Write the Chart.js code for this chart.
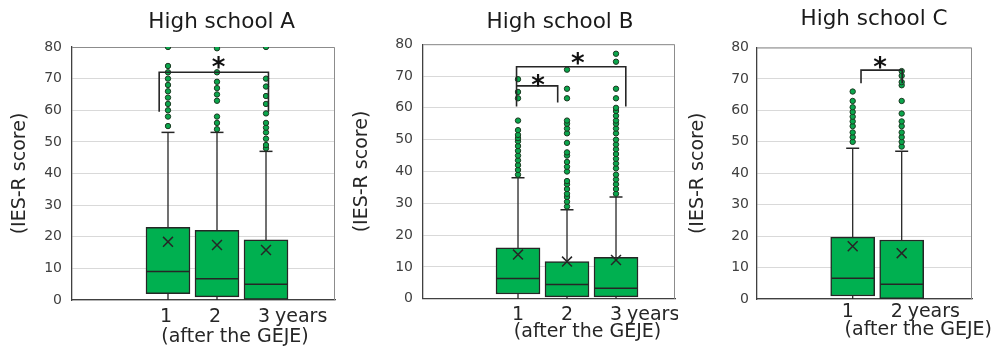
<!DOCTYPE html>
<html>
<head>
<meta charset="utf-8">
<script src="https://cdn.jsdelivr.net/npm/chart.js@4"></script>
<style>
  body { margin: 0; background: #fff; }
  #wrap { position: relative; width: 995px; height: 350px; overflow: hidden; }
  canvas { position: absolute; top: 0; }
</style>
</head>
<body>
<div id="wrap">
  <canvas id="chartA" width="340" height="350" style="left:0px"></canvas>
  <canvas id="chartB" width="336" height="350" style="left:342px"></canvas>
  <canvas id="chartC" width="317" height="350" style="left:678px"></canvas>
</div>
<script>
// IES-R scores, years after the GEJE
const yTicks = [0, 10, 20, 30, 40, 50, 60, 70, 80];

// High school A
const yearsA = [1, 2, 3];
const q1A = [2, 1, 0];
const medianA = [9, 6.7, 5];
const q3A = [23, 22, 19];
const meanA = [18.4, 17.4, 15.8];
const upperA = [53, 53, 47];
const lowerA = [0, 0, 0];
const outliersA = [
  [55, 58, 60, 62, 64, 66, 68, 70, 72, 74, 80],
  [54, 56, 58, 63, 65, 67, 69, 72, 79.6],
  [48, 49, 51, 53, 54.5, 56, 59, 62, 64.5, 67.5, 70, 80]
];

// High school B
const yearsB = [1, 2, 3];
const q1B = [1.5, 0.6, 0.6];
const medianB = [6.4, 4.5, 3.3];
const q3B = [16, 11.7, 13];
const meanB = [13.9, 11.7, 12.2];
const upperB = [38, 28, 32];
const lowerB = [0, 0, 0];
const outliersB = [
  [39, 40.5, 42, 43.5, 45, 46.5, 48, 49.5, 50.5, 51.5, 53, 56, 63, 65, 69],
  [29, 30.5, 32, 33, 34.5, 36, 37, 40, 41.5, 43, 45, 46, 49, 52, 53.5, 55, 56, 63, 66, 72],
  [33, 34.5, 36, 37.5, 39, 41, 42.5, 44, 45.5, 47, 48.5, 50, 52, 53.5, 55, 56, 57.5, 59, 60, 63, 66, 74.5, 77]
];

// High school C
const yearsC = [1, 2];
const q1C = [1, 0];
const medianC = [6.6, 4.7];
const q3C = [19.7, 18.8];
const meanC = [16.8, 14.6];
const upperC = [48, 47];
const lowerC = [0, 0];
const outliersC = [
  [50, 51.5, 53, 55, 56.5, 58, 59.5, 61, 63, 66],
  [48.5, 50, 51.5, 53, 55, 56.5, 59, 63, 68, 69, 71, 72.5]
];

const FONT = "'DejaVu Sans', sans-serif";
const GREEN = '#00b050';
const DARK = '#262626';

function makePanel(id, p) {
  const boxes = p.years.map((t, i) => ({ x: t, y: [p.q1[i], p.q3[i]] }));
  const whiskers = [];
  p.years.forEach((t, i) => {
    whiskers.push({ x: t, y: p.q3[i] }, { x: t, y: p.upper[i] }, { x: t, y: null });
    whiskers.push({ x: t, y: p.lower[i] }, { x: t, y: p.q1[i] }, { x: t, y: null });
  });
  const caps = p.years.map((t, i) => ({ x: t, y: p.upper[i] }));
  const medians = p.years.map((t, i) => ({ x: t, y: p.median[i] }));
  const means = p.years.map((t, i) => ({ x: t, y: p.mean[i] }));
  const dots = [];
  p.years.forEach((t, i) => p.outliers[i].forEach(v => dots.push({ x: t, y: v })));

  const marks = {
    id: 'marks',
    beforeDatasetsDraw(chart) {
      const { ctx, chartArea: a } = chart;
      ctx.save();
      ctx.strokeStyle = '#8c8c8c';
      ctx.lineWidth = 1;
      ctx.beginPath();
      ctx.moveTo(a.left, a.top + 0.5);
      ctx.lineTo(a.right - 0.5, a.top + 0.5);
      ctx.lineTo(a.right - 0.5, a.bottom);
      ctx.stroke();
      ctx.restore();
    },
    afterDatasetsDraw(chart) {
      const { ctx } = chart;
      const xs = chart.scales.x, ys = chart.scales.y;
      ctx.save();
      // significance brackets
      ctx.strokeStyle = DARK;
      ctx.lineWidth = 1.6;
      p.brackets.forEach(b => {
        const x1 = xs.getPixelForValue(b.x1), x2 = xs.getPixelForValue(b.x2);
        const y = ys.getPixelForValue(b.y);
        ctx.beginPath();
        ctx.moveTo(x1, ys.getPixelForValue(b.leg1));
        ctx.lineTo(x1, y);
        ctx.lineTo(x2, y);
        ctx.lineTo(x2, ys.getPixelForValue(b.leg2));
        ctx.stroke();
        ctx.fillStyle = '#111';
        ctx.font = 'bold 26px ' + FONT;
        ctx.textAlign = 'center';
        ctx.textBaseline = 'alphabetic';
        ctx.fillText('*', xs.getPixelForValue(b.starX), ys.getPixelForValue(b.starY) + 15);
      });
      // title
      ctx.fillStyle = '#1a1a1a';
      ctx.font = '21.5px ' + FONT;
      ctx.textAlign = 'center';
      ctx.textBaseline = 'alphabetic';
      ctx.fillText(p.title, p.titleX, p.titleBase);
      // x axis: unit and caption
      const last = p.years[p.years.length - 1];
      ctx.fillStyle = DARK;
      ctx.font = '19px ' + FONT;
      ctx.textAlign = 'left';
      ctx.fillText('years', xs.getPixelForValue(last) + p.labelShift + 11, p.yearsBase);
      ctx.textAlign = 'center';
      ctx.fillText('(after the GEJE)', xs.getPixelForValue(2) + p.captionShift, p.captionBase);
      ctx.restore();
    }
  };

  return new Chart(document.getElementById(id), {
    type: 'bar',
    data: {
      datasets: [
        { type: 'line', data: whiskers, borderColor: DARK, borderWidth: 1.3, pointRadius: 0, spanGaps: false, order: 6 },
        { type: 'bar', data: boxes, backgroundColor: GREEN, borderColor: DARK, borderWidth: 1.5, borderSkipped: false, barThickness: 44, order: 5 },
        { type: 'scatter', data: medians, pointStyle: 'line', pointRadius: 21.3, borderColor: DARK, borderWidth: 1.5, order: 4 },
        { type: 'scatter', data: caps, pointStyle: 'line', pointRadius: 6.5, borderColor: DARK, borderWidth: 1.5, order: 4 },
        { type: 'scatter', data: means, pointStyle: 'crossRot', pointRadius: 7, borderColor: DARK, borderWidth: 1.5, order: 3 },
        { type: 'scatter', data: dots, pointRadius: 2.7, backgroundColor: '#0aa64c', borderColor: '#1d3a22', borderWidth: 1, clip: 0, order: 2 }
      ]
    },
    options: {
      responsive: false,
      animation: false,
      events: [],
      layout: { autoPadding: false, padding: { top: p.chartTop, right: p.padRight, bottom: 0, left: 0 } },
      plugins: { legend: { display: false }, tooltip: { enabled: false }, title: { display: false } },
      scales: {
        x: {
          type: 'linear', min: p.xMin, max: p.xMax, offset: false,
          grid: { display: true, color: 'rgba(0,0,0,0)', drawTicks: false, offset: false },
          border: { display: true, color: '#404040', width: 1.3 },
          afterBuildTicks: s => { s.ticks = p.years.map(v => ({ value: v })); },
          afterFit: s => { s.height = p.xHeight; s.paddingLeft = 0; s.paddingRight = 0; },
          ticks: { font: { family: FONT, size: 19 }, color: DARK, padding: p.xPad, maxRotation: 0, autoSkip: false,
                   labelOffset: p.labelShift, callback: (v, i) => p.xLabels[i] }
        },
        y: {
          min: 0, max: 80,
          afterBuildTicks: s => { s.ticks = yTicks.map(v => ({ value: v })); },
          afterFit: s => { s.width = p.yWidth; },
          grid: { color: '#d9d9d9', lineWidth: 1, drawTicks: false },
          border: { display: true, color: '#404040', width: 1.3 },
          ticks: { font: { family: FONT, size: 14 }, color: '#404040', padding: p.yPad },
          title: { display: true, text: '(IES-R score)', font: { family: FONT, size: 19 }, color: DARK,
                   padding: { top: 9, bottom: 0 } }
        }
      }
    },
    plugins: [marks]
  });
}

makePanel('chartA', {
  title: 'High school A', years: yearsA, xLabels: ['1', '2', '3'],
  q1: q1A, median: medianA, q3: q3A, mean: meanA, upper: upperA, lower: lowerA, outliers: outliersA,
  brackets: [{ x1: 0.82, x2: 3.05, y: 72, leg1: 59.5, leg2: 59.5, starX: 2.03, starY: 75.7 }],
  xMin: -0.959, xMax: 4.408, chartTop: 47, padRight: 5, xHeight: 50, yWidth: 72, yPad: 10, xPad: 5.6,
  labelShift: -2, titleX: 221.7, titleBase: 28.3, yearsBase: 321.7, captionBase: 341.7, captionShift: 18
});

makePanel('chartB', {
  title: 'High school B', years: yearsB, xLabels: ['1', '2', '3'],
  q1: q1B, median: medianB, q3: q3B, mean: meanB, upper: upperB, lower: lowerB, outliers: outliersB,
  brackets: [
    { x1: 0.97, x2: 3.2, y: 72.9, leg1: 60.4, leg2: 60.4, starX: 2.22, starY: 76 },
    { x1: 0.97, x2: 1.81, y: 66.9, leg1: 66.9, leg2: 61.7, starX: 1.41, starY: 69 }
  ],
  xMin: -0.939, xMax: 4.204, chartTop: 44.2, padRight: 3, xHeight: 51.2, yWidth: 81, yPad: 10, xPad: 4.8,
  labelShift: 0, titleX: 218, titleBase: 28.3, yearsBase: 320, captionBase: 336.7, captionShift: 20.5
});

makePanel('chartC', {
  title: 'High school C', years: yearsC, xLabels: ['1', '2'],
  q1: q1C, median: medianC, q3: q3C, mean: meanC, upper: upperC, lower: lowerC, outliers: outliersC,
  brackets: [{ x1: 1.17, x2: 2.01, y: 72.8, leg1: 68.6, leg2: 68.6, starX: 1.56, starY: 75.8 }],
  xMin: -0.953, xMax: 3.435, chartTop: 47.5, padRight: 23, xHeight: 50.9, yWidth: 79, yPad: 8, xPad: 1.5,
  labelShift: -5, titleX: 196, titleBase: 25, yearsBase: 316.7, captionBase: 335, captionShift: 16.6
});
</script>
</body>
</html>
